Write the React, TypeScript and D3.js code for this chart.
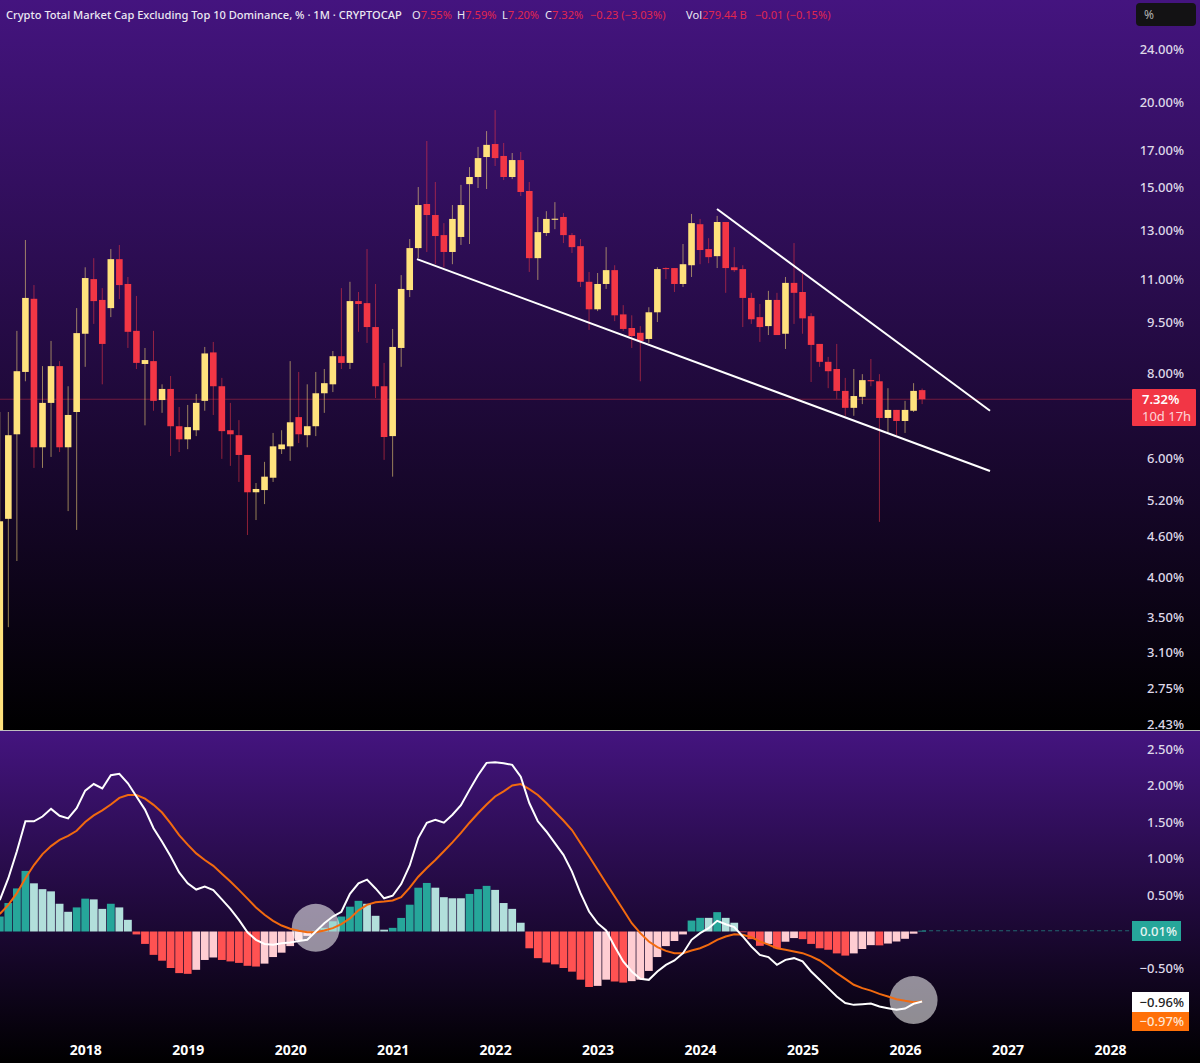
import { FC, useEffect, useRef } from 'react';
import * as d3 from 'd3';

// monthly candles, first one is Mar 2017
const opens = [2.2,4.88,6.50,8.03,10.29,6.22,7.23,8.19,6.22,7.01,9.14,11.00,10.25,9.97,11.77,10.82,9.23,8.25,8.33,7.30,7.58,6.68,6.39,6.59,7.28,8.58,7.65,6.59,6.48,6.06,5.34,5.38,5.61,6.18,6.24,6.89,6.48,6.68,7.47,7.70,8.47,8.28,10.21,10.14,9.35,7.65,6.46,8.71,10.60,12.22,14.19,13.67,12.77,12.06,12.69,15.18,15.55,16.64,17.39,16.70,15.55,16.47,14.83,11.81,12.86,13.45,13.58,12.77,12.30,10.90,9.93,10.82,11.34,9.76,9.32,9.17,8.98,9.83,11.42,11.42,10.82,11.53,13.25,12.18,11.89,13.35,11.45,11.38,10.32,9.67,9.38,10.25,9.14,10.86,10.53,9.70,8.83,8.31,8.11,7.53,7.11,7.38,7.81,7.78,6.87,7.06,6.80,7.04,7.55];
const highs = [7.01,7.01,9.23,12.56,10.78,8.19,8.92,8.33,7.65,9.97,11.45,11.81,10.67,12.18,12.35,11.08,10.39,8.71,9.23,7.70,7.92,7.13,7.18,7.45,8.74,8.89,7.87,7.23,6.82,6.06,5.51,5.92,6.53,6.59,8.33,8.03,7.70,8.03,8.11,8.62,10.67,10.90,10.53,12.18,10.82,8.28,9.29,11.15,12.60,15.03,17.57,15.29,13.30,14.14,15.14,16.08,17.22,18.17,19.51,17.45,16.87,16.93,15.29,13.58,13.85,14.28,13.76,12.86,12.60,11.27,11.23,12.26,11.53,10.07,9.73,9.38,10.00,11.45,11.45,11.42,12.39,13.72,13.49,12.64,13.63,13.35,12.26,11.53,10.50,10.11,10.57,10.50,11.08,12.43,11.19,9.80,8.83,8.45,8.83,7.87,8.11,7.97,8.39,7.97,7.60,7.06,7.28,7.73,7.59];
const lows = [2.2,3.38,4.23,7.78,5.80,5.80,6.02,6.12,5.01,4.70,8.17,9.45,7.70,9.67,10.28,8.71,8.11,6.70,7.04,6.99,6.04,6.12,6.18,6.46,7.04,6.94,5.98,5.84,5.53,4.62,4.86,5.13,5.53,6.08,5.94,6.31,6.22,6.46,6.99,7.50,8.11,8.11,9.20,8.86,7.35,5.96,5.63,8.17,10.35,11.81,12.06,11.57,11.45,11.57,12.35,12.39,14.98,14.93,16.14,15.39,15.44,14.58,11.27,10.97,12.73,13.03,12.43,12.02,10.71,9.26,9.87,10.64,9.54,9.23,8.71,7.78,8.86,9.51,11.00,10.53,10.71,11.08,11.57,11.61,11.42,10.50,11.27,9.35,9.45,8.89,9.10,9.10,8.68,9.45,9.14,7.76,8.17,7.60,7.33,6.92,6.92,7.20,7.65,4.83,6.55,6.48,6.53,7.01,7.20];
const closes = [4.84,6.48,8.05,10.32,6.22,7.23,8.19,6.22,6.94,9.16,11.04,10.21,8.83,11.77,10.78,9.20,8.28,8.36,7.28,7.58,6.68,6.39,6.66,7.23,8.55,7.65,6.57,6.50,6.06,5.34,5.40,5.63,6.24,6.28,6.77,6.50,6.68,7.47,7.73,8.47,8.28,10.21,10.11,9.35,7.65,6.44,8.74,10.64,12.22,14.14,13.67,12.73,12.06,13.49,14.14,15.55,16.58,17.34,16.58,15.55,16.47,14.78,11.81,12.90,13.49,13.50,12.77,12.26,10.90,9.93,10.82,11.34,9.73,9.29,9.07,8.92,9.83,11.38,11.38,10.82,11.57,13.30,12.14,11.85,13.35,11.42,11.34,10.32,9.60,9.35,10.25,9.10,10.86,10.50,9.63,8.80,8.31,8.05,7.53,7.11,7.40,7.81,7.78,6.87,7.06,6.80,7.06,7.53,7.32];

const histogram = [.205,.39,.59,.83,.66,.58,.55,.38,.27,.33,.45,.44,.31,.38,.33,.16,-.04,-.17,-.32,-.40,-.50,-.57,-.58,-.525,-.39,-.356,-.39,-.41,-.43,-.47,-.48,-.44,-.35,-.29,-.20,-.12,-.06,.01,.05,.14,.205,.34,.42,.38,.215,.025,.05,.186,.367,.60,.665,.60,.47,.455,.455,.515,.58,.625,.57,.39,.31,.12,-.23,-.365,-.425,-.45,-.50,-.55,-.66,-.76,-.745,-.66,-.685,-.70,-.68,-.66,-.54,-.35,-.20,-.13,-.04,.15,.187,.187,.265,.187,.12,-.01,-.105,-.196,-.17,-.23,-.14,-.09,-.105,-.17,-.23,-.25,-.30,-.33,-.30,-.24,-.187,-.19,-.165,-.137,-.10,-.03,.01];
const macdLine = [.43,.73,1.10,1.51,1.51,1.575,1.68,1.585,1.55,1.69,1.93,2.02,1.96,2.14,2.16,2.03,1.85,1.67,1.415,1.23,1.03,.81,.66,.575,.615,.566,.44,.31,.16,-.01,-.114,-.17,-.18,-.16,-.15,-.13,-.114,0,.114,.205,.27,.516,.66,.71,.59,.455,.49,.65,.905,1.28,1.49,1.53,1.49,1.60,1.73,1.94,2.14,2.31,2.32,2.306,2.283,2.12,1.76,1.51,1.37,1.21,1.05,.82,.525,.274,.114,.014,-.205,-.41,-.548,-.648,-.662,-.548,-.457,-.397,-.297,-.114,-.023,.046,.146,.10,.06,-.068,-.205,-.32,-.35,-.457,-.388,-.365,-.41,-.548,-.662,-.776,-.89,-.98,-1.005,-.995,-.986,-1.027,-1.05,-1.073,-1.055,-.99,-.96];
const signalLine = [.24,.365,.525,.73,.91,1.06,1.17,1.255,1.31,1.38,1.50,1.59,1.66,1.74,1.83,1.87,1.87,1.82,1.735,1.63,1.48,1.32,1.19,1.07,.98,.90,.79,.685,.57,.45,.33,.23,.146,.082,.037,.01,-.01,-.01,.014,.046,.10,.18,.29,.365,.40,.41,.425,.47,.60,.75,.87,.98,1.10,1.22,1.35,1.49,1.62,1.74,1.85,1.92,2.0,2.02,1.95,1.87,1.76,1.64,1.52,1.39,1.21,1.03,.845,.66,.48,.297,.114,-.023,-.137,-.215,-.265,-.297,-.297,-.26,-.23,-.18,-.114,-.068,-.037,-.046,-.078,-.137,-.18,-.23,-.25,-.274,-.297,-.34,-.397,-.48,-.57,-.65,-.73,-.776,-.81,-.854,-.89,-.927,-.95,-.968,-.96];

const priceTicks = [24, 20, 17, 15, 13, 11, 9.5, 8, 6, 5.2, 4.6, 4, 3.5, 3.1, 2.75, 2.43];
const macdTicks = [2.5, 2, 1.5, 1, 0.5, -0.5];
const yearLabels = [2018, 2019, 2020, 2021, 2022, 2023, 2024, 2025, 2026, 2027, 2028];
const lowerTrend = [[48.85, 11.77], [115.95, 5.74]];
const upperTrend = [[83.98, 13.95], [115.95, 7.04]];
const circleMarks = [[37, 0.05], [107, -0.94]];
const headerTitle = 'Crypto Total Market Cap Excluding Top 10 Dominance, % · 1M · CRYPTOCAP';
const headerValues = [
  ['O', '7.55%', 412], ['H', '7.59%', 457], ['L', '7.20%', 502], ['C', '7.32%', 545],
  ['', '−0.23 (−3.03%)', 590], ['Vol', '279.44 B', 686], ['', '−0.01 (−0.15%)', 755],
] as const;

const YELLOW = '#ffe27d';
const RED = '#f23645';
const TEXT = '#ded8e8';
const FONT = '"Noto Sans", sans-serif';

const App: FC = () => {
  const svgRef = useRef<SVGSVGElement>(null);

  useEffect(() => {
    if (!svgRef.current) return;
    const svg = d3.select(svgRef.current);
    svg.selectAll('*').remove();

    // month index -> pixel, 2018 sits on index 10
    const x = d3.scaleLinear().domain([0, 130]).range([-0.2, 1110]);
    const y = d3.scaleLog().domain([24, 2.43]).range([49, 724.5]);
    const yMacd = d3.scaleLinear().domain([2.5, -0.5]).range([749, 968]);

    // Backgrounds
    const defs = svg.append('defs');
    const grad = defs.append('linearGradient').attr('id', 'paneBg').attr('x1', 0).attr('x2', 0).attr('y1', 0).attr('y2', 1);
    grad.append('stop').attr('offset', '0%').attr('stop-color', '#44147f');
    grad.append('stop').attr('offset', '100%').attr('stop-color', '#000000');
    defs.append('clipPath').attr('id', 'priceClip').append('rect').attr('width', 1200).attr('height', 730);

    svg.append('rect').attr('width', 1200).attr('height', 1063).attr('fill', '#000');
    svg.append('rect').attr('width', 1200).attr('height', 730).attr('fill', 'url(#paneBg)');
    svg.append('rect').attr('y', 731).attr('width', 1200).attr('height', 332).attr('fill', 'url(#paneBg)');
    svg.append('line').attr('x1', 0).attr('x2', 1200).attr('y1', 730.5).attr('y2', 730.5).attr('stroke', '#fff').attr('stroke-opacity', 0.75);

    // Candles
    const price = svg.append('g').attr('clip-path', 'url(#priceClip)');
    price.append('line').attr('x1', 0).attr('x2', 1132).attr('y1', y(7.32)).attr('y2', y(7.32)).attr('stroke', RED).attr('stroke-opacity', 0.4);

    const candles = price.selectAll('.candle').data(opens).enter().append('g').attr('class', 'candle');
    candles
      .append('line')
      .attr('x1', (_d, i) => x(i))
      .attr('x2', (_d, i) => x(i))
      .attr('y1', (_d, i) => y(highs[i]))
      .attr('y2', (_d, i) => y(lows[i]))
      .attr('stroke', (d, i) => (closes[i] >= d ? YELLOW : RED))
      .attr('stroke-opacity', 0.55);
    candles
      .append('rect')
      .attr('x', (_d, i) => x(i) - 3.3)
      .attr('width', 6.6)
      .attr('y', (d, i) => y(Math.max(d, closes[i])))
      .attr('height', (d, i) => Math.max(1, y(Math.min(d, closes[i])) - y(Math.max(d, closes[i]))))
      .attr('fill', (d, i) => (closes[i] >= d ? YELLOW : RED));

    // Wedge lines
    const trend = d3.line<number[]>().x((d) => x(d[0])).y((d) => y(d[1]));
    [lowerTrend, upperTrend].forEach((t) => {
      svg.append('path').attr('d', trend(t)).attr('fill', 'none').attr('stroke', '#fff').attr('stroke-width', 2);
    });

    // MACD histogram
    const barColor = (d: number, i: number) => {
      const prev = i > 0 ? histogram[i - 1] : -Infinity;
      if (d >= 0) return d > prev ? '#26a69a' : '#b2dfdb';
      return d < prev ? '#ff5252' : '#ffcdd2';
    };
    svg
      .selectAll('.hist')
      .data(histogram)
      .enter()
      .append('rect')
      .attr('class', 'hist')
      .attr('x', (_d, i) => x(i) - 3.9)
      .attr('width', 7.8)
      .attr('y', (d) => Math.min(yMacd(d), yMacd(0)))
      .attr('height', (d) => Math.abs(yMacd(d) - yMacd(0)))
      .attr('fill', barColor);
    svg.append('line').attr('x1', x(108)).attr('x2', 1132).attr('y1', yMacd(0.01)).attr('y2', yMacd(0.01))
      .attr('stroke', '#26a69a').attr('stroke-opacity', 0.6).attr('stroke-dasharray', '4 3');

    // Circled crossings
    svg
      .selectAll('.mark')
      .data(circleMarks)
      .enter()
      .append('circle')
      .attr('class', 'mark')
      .attr('cx', (d) => x(d[0]))
      .attr('cy', (d) => yMacd(d[1]))
      .attr('r', 24)
      .attr('fill', '#fff')
      .attr('fill-opacity', 0.55);

    const macdPath = d3.line<number>().x((_d, i) => x(i)).y((d) => yMacd(d));
    svg.append('path').attr('d', macdPath(signalLine)).attr('fill', 'none').attr('stroke', '#f26a0f').attr('stroke-width', 2);
    svg.append('path').attr('d', macdPath(macdLine)).attr('fill', 'none').attr('stroke', '#fff').attr('stroke-width', 2);

    // Axes
    const styleAxis = (g: d3.Selection<SVGGElement, unknown, null, undefined>) => {
      g.select('.domain').remove();
      g.selectAll('line').remove();
      g.selectAll('text').attr('fill', TEXT).style('font-family', FONT).style('font-size', '13px').style('font-weight', 500);
    };
    const fmt = (d: number) => `${d < 0 ? '−' : ''}${Math.abs(d).toFixed(2)}%`;
    svg.append('g').attr('transform', 'translate(1184,0)')
      .call(d3.axisLeft(y).tickValues(priceTicks).tickSize(0).tickPadding(0).tickFormat((d) => fmt(+d)))
      .call(styleAxis);
    svg.append('g').attr('transform', 'translate(1184,0)')
      .call(d3.axisLeft(yMacd).tickValues(macdTicks).tickSize(0).tickPadding(0).tickFormat((d) => fmt(+d)))
      .call(styleAxis);
    const xAxis = svg.append('g').attr('transform', 'translate(0,1045)')
      .call(d3.axisBottom(x).tickValues(yearLabels.map((yr) => (yr - 2018) * 12 + 10)).tickSize(0).tickPadding(0)
        .tickFormat((d) => String(yearLabels[(+d - 10) / 12])))
      .call(styleAxis);
    xAxis.selectAll('text').attr('fill', '#fff').style('font-weight', 700).style('font-size', '14px');

    // Tags on the right
    const tag = (top: number, h: number, w: number, bg: string, fg: string, label: string, tx = 1184) => {
      svg.append('rect').attr('x', 1132).attr('y', top).attr('width', w).attr('height', h).attr('fill', bg);
      svg.append('text').attr('x', tx).attr('y', top + h / 2 + 4.5).attr('text-anchor', 'end').attr('fill', fg)
        .style('font-family', FONT).style('font-size', '13px').style('font-weight', 500).text(label);
    };
    svg.append('rect').attr('x', 1132).attr('y', 389).attr('width', 64).attr('height', 37).attr('fill', RED).attr('rx', 1);
    svg.append('text').attr('x', 1142).attr('y', 404).attr('fill', '#fff').style('font-family', FONT).style('font-size', '13px').style('font-weight', 600).text(fmt(closes[108]));
    svg.append('text').attr('x', 1142).attr('y', 421).attr('fill', '#fff').attr('fill-opacity', 0.8).style('font-family', FONT).style('font-size', '13px').text('10d 17h');
    tag(921, 20, 49, '#26a69a', '#e8f5f3', fmt(0.01), 1177);
    tag(992, 20, 57, '#ffffff', '#222', fmt(-0.96));
    tag(1012, 19, 57, '#ff7008', '#ffe6d2', fmt(-0.97));

    // Unit box
    svg.append('rect').attr('x', 1136).attr('y', 3).attr('width', 60).attr('height', 23).attr('rx', 4).attr('fill', '#131214');
    svg.append('text').attr('x', 1144).attr('y', 19).attr('fill', '#b0b0b0').style('font-family', FONT).style('font-size', '12px').text('%');

    // Header
    const header = svg.append('g').style('font-family', FONT).style('font-size', '11.1px');
    header.append('text').attr('x', 6).attr('y', 18.5).attr('fill', '#ece8f2').style('font-weight', 500).text(headerTitle);
    headerValues.forEach(([k, v, px]) => {
      const t = header.append('text').attr('x', px).attr('y', 18.5);
      t.append('tspan').attr('fill', '#ece8f2').text(k);
      t.append('tspan').attr('fill', '#e0274f').text(v);
    });
  }, []);

  return <svg ref={svgRef} width={1200} height={1063} style={{ position: 'absolute', left: 0, top: 0, display: 'block' }} />;
};

export default App;
